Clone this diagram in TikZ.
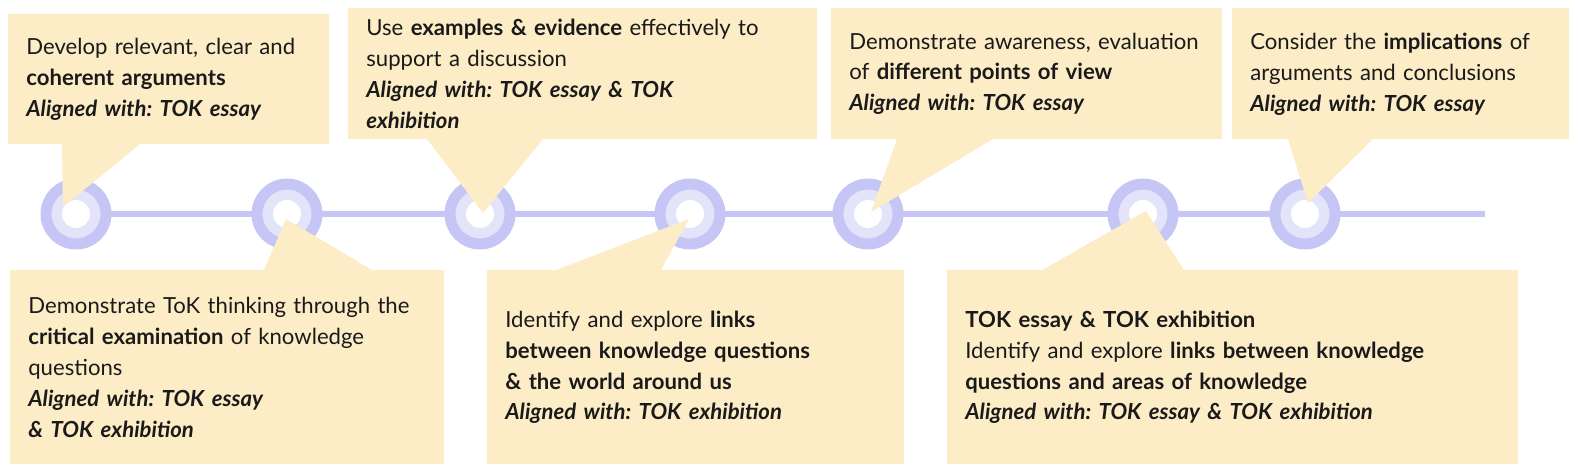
\documentclass[tikz,border=0pt]{standalone}
\usepackage{fontspec}
\setmainfont{Lato}
\frenchspacing
\definecolor{cardfill}{HTML}{FCEDC7}
\definecolor{ringout}{HTML}{C6C6F6}
\definecolor{ringmid}{HTML}{E3E3F9}
\definecolor{inktext}{HTML}{1A1A1A}
\newcommand{\alw}[1]{\textbf{\textit{#1}}}
\tikzset{
  card/.style={fill=cardfill,anchor=north west,inner xsep=0.36cm,inner ysep=0pt,align=left,
    text=inktext,font=\fontsize{12.6}{17.6}\selectfont},
  ring/.style={circle,fill=ringmid,draw=ringout,line width=0.22cm,minimum size=1.2cm,inner sep=0pt},
  timeline/.style={ringout,line width=0.12cm},
  pointer/.style={fill=cardfill}
}
\begin{document}
\begin{tikzpicture}[x=0.02cm,y=-0.02cm]
\useasboundingbox (0,0) rectangle (1580,476);
% timeline with rings
\foreach \x [count=\i] in {76,287,480,690,868,1143,1305}
  \coordinate (p\i) at (\x,214);
\coordinate (tlend) at (1485,214);
\draw[timeline] (p1) -- (tlend);
\foreach \i in {1,...,7} {
  \node[ring] (r\i) at (p\i) {};
  \fill[white] (r\i.center) circle (0.28cm);
}
% pointers
\fill[pointer] (62,144) -- (63,207) -- (140,144) -- cycle;
\fill[pointer] (427,139) -- (483,213) -- (543,139) -- cycle;
\fill[pointer] (897,139) -- (871,212) -- (993,139) -- cycle;
\fill[pointer] (1288,139) -- (1308,203) -- (1373,139) -- cycle;
\fill[pointer] (264,270) -- (286,219) -- (372,270) -- cycle;
\fill[pointer] (556,270) -- (689,219) -- (661,270) -- cycle;
\fill[pointer] (1042,270) -- (1146,211) -- (1184,270) -- cycle;
% cards above
\node[card,text width=5.7cm,minimum height=2.6cm] (b1) at (8,14)
  {Develop relevant, clear and\\ \textbf{coherent arguments}\\ \alw{Aligned with: TOK essay}};
\node[card,text width=8.66cm,minimum height=2.62cm] (b2) at (348,8)
  {Use \textbf{examples \& evidence} effectively to\\ support a discussion\\
   \alw{Aligned with: TOK essay \& TOK}\\ \alw{exhibition}};
\node[card,text width=7.1cm,minimum height=2.62cm] (b3) at (831,8)
  {Demonstrate awareness, evaluation\\ of \textbf{different points of view}\\ \alw{Aligned with: TOK essay}};
\node[card,text width=6.02cm,minimum height=2.62cm] (b4) at (1232,8)
  {Consider the \textbf{implications} of\\ arguments and conclusions\\ \alw{Aligned with: TOK essay}};
% cards below
\node[card,text width=7.96cm,minimum height=3.88cm] (b5) at (10,270)
  {Demonstrate ToK thinking through the\\ \textbf{critical examination} of knowledge\\ questions\\
   \alw{Aligned with: TOK essay}\\ \alw{\& TOK exhibition}};
\node[card,text width=7.62cm,minimum height=3.88cm] (b6) at (487,270)
  {Identify and explore \textbf{links}\\ \textbf{between knowledge questions}\\ \textbf{\& the world around us}\\
   \alw{Aligned with: TOK exhibition}};
\node[card,text width=10.7cm,minimum height=3.88cm] (b7) at (947,270)
  {\textbf{TOK essay \& TOK exhibition}\\ Identify and explore \textbf{links between knowledge}\\
   \textbf{questions and areas of knowledge}\\ \alw{Aligned with: TOK essay \& TOK exhibition}};
\end{tikzpicture}
\end{document}
